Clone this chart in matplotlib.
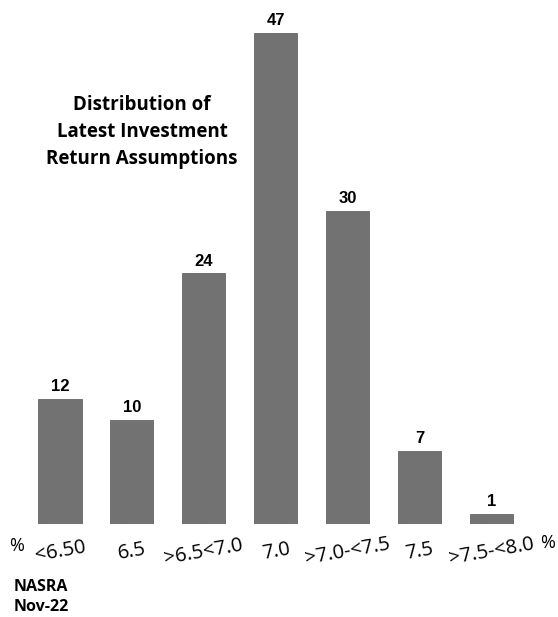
import numpy as np
import matplotlib.pyplot as plt

categories = ['<6.50', '6.5', '>6.5<7.0', '7.0', '>7.0-<7.5', '7.5', '>7.5-<8.0']
counts = [12, 10, 24, 47, 30, 7, 1]

W, H = 558, 617
fig = plt.figure(figsize=(W / 100, H / 100), dpi=100)
ax = fig.add_axes([24 / W, 93 / H, (527.5 - 24) / W, 491 / H])

x = np.arange(len(categories))
bars = ax.bar(x, counts, width=0.6, color='#727272', edgecolor='#555555', linewidth=0.5)
for xi, v in zip(x, counts):
    ax.text(xi, v + 0.45, str(v), ha='center', va='bottom', fontsize=12,
            fontweight='bold', family='Liberation Sans', clip_on=False)

ax.set_xlim(-0.5, len(categories) - 0.5)
ax.set_ylim(0, 47)
ax.axhline(0, color='#bbbbbb', lw=0.8, ls=(0, (1, 3)), xmin=0.02, xmax=0.98)
for s in ax.spines.values():
    s.set_visible(False)
ax.set_yticks([])
ax.set_xticks(x)
ax.set_xticklabels(categories, rotation=10, fontsize=14.5, family='Open Sans',
                   va='center', ha='center', rotation_mode='anchor')
ax.tick_params(axis='x', length=0, pad=20)

fig.text(17 / W, 1 - 546 / H, '%', fontsize=13, family='Open Sans',
         ha='center', va='center')
fig.text(548 / W, 1 - 543 / H, '%', fontsize=13, family='Open Sans',
         ha='center', va='center')
fig.text(14 / W, 1 - 587 / H, 'NASRA', fontsize=11.5, fontweight='bold',
         family='Open Sans', va='center')
fig.text(14 / W, 1 - 607 / H, 'Nov-22', fontsize=11.5, fontweight='bold',
         family='Open Sans', va='center')
fig.text(142 / W, 1 - 132 / H, 'Distribution of\nLatest Investment\nReturn Assumptions',
         ha='center', va='center', fontsize=13.5, fontweight='bold',
         family='Open Sans', linespacing=1.45)

fig.savefig('out.png', dpi=100)
